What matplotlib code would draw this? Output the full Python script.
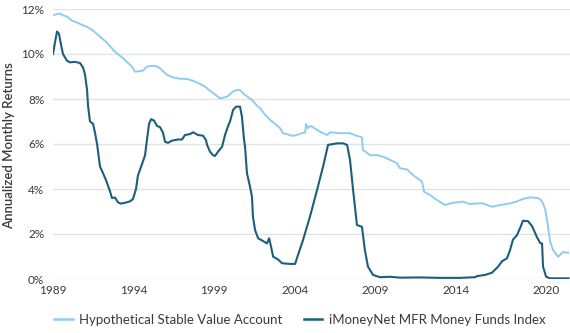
import matplotlib
matplotlib.use("Agg")
import matplotlib.pyplot as plt

# Hypothetical Stable Value Account (year, % return)
sv_years = [1989.03, 1989.28, 1989.46, 1989.65, 1989.90, 1990.21, 1990.52, 1990.83, 1991.14, 1991.51,
            1991.94, 1992.37, 1992.87, 1993.37, 1993.92, 1994.11, 1994.42, 1994.60, 1994.85, 1995.22,
            1995.47, 1995.66, 1996.09, 1996.46, 1996.89, 1997.33, 1997.70, 1998.13, 1998.44, 1998.75,
            1999.06, 1999.37, 1999.81, 2000.18, 2000.43, 2000.61, 2000.92, 2001.35, 2001.60, 2001.85,
            2002.16, 2002.47, 2002.78, 2003.09, 2003.27, 2003.58, 2003.89, 2004.20, 2004.51, 2004.64,
            2004.70, 2004.82, 2004.94, 2005.07, 2005.32, 2005.56, 2006.00, 2006.18, 2006.49, 2006.80,
            2007.42, 2007.85, 2008.16, 2008.22, 2008.41, 2008.66, 2009.09, 2009.40, 2009.71, 2010.02,
            2010.33, 2010.52, 2010.95, 2011.32, 2011.63, 2011.88, 2012.00, 2012.38, 2012.81, 2013.30,
            2013.80, 2014.42, 2014.85, 2015.29, 2015.66, 2016.21, 2016.71, 2017.33, 2017.76, 2018.13,
            2018.57, 2019.06, 2019.25, 2019.37, 2019.50, 2019.62, 2019.81, 2019.99, 2020.30, 2020.61,
            2020.92]
sv_values = [11.72, 11.78, 11.80, 11.72, 11.66, 11.48, 11.40, 11.29, 11.21, 11.04,
             10.77, 10.50, 10.10, 9.81, 9.44, 9.21, 9.24, 9.26, 9.44, 9.48,
             9.45, 9.36, 9.07, 8.96, 8.90, 8.89, 8.81, 8.67, 8.55, 8.37,
             8.20, 8.03, 8.10, 8.33, 8.40, 8.40, 8.18, 7.96, 7.75, 7.59,
             7.30, 7.07, 6.90, 6.70, 6.48, 6.42, 6.36, 6.42, 6.50, 6.50,
             6.89, 6.70, 6.80, 6.77, 6.65, 6.55, 6.40, 6.52, 6.50, 6.48,
             6.48, 6.36, 6.30, 5.73, 5.65, 5.50, 5.51, 5.45, 5.36, 5.25,
             5.14, 4.92, 4.87, 4.62, 4.45, 4.33, 3.88, 3.73, 3.51, 3.29,
             3.39, 3.44, 3.33, 3.36, 3.36, 3.21, 3.29, 3.36, 3.45, 3.56,
             3.63, 3.60, 3.50, 3.36, 3.10, 2.62, 1.66, 1.29, 0.99, 1.20,
             1.17]

# iMoneyNet MFR Money Funds Index (year, % return)
mm_years = [1989.03, 1989.15, 1989.28, 1989.40, 1989.53, 1989.65, 1989.77, 1989.90, 1990.08, 1990.39,
            1990.70, 1990.89, 1991.01, 1991.14, 1991.20, 1991.32, 1991.51, 1991.63, 1991.76, 1991.94,
            1992.13, 1992.31, 1992.56, 1992.68, 1992.87, 1993.06, 1993.24, 1993.55, 1993.80, 1993.98,
            1994.17, 1994.29, 1994.54, 1994.73, 1994.85, 1994.98, 1995.10, 1995.28, 1995.47, 1995.66,
            1995.84, 1995.97, 1996.15, 1996.40, 1996.77, 1997.02, 1997.20, 1997.51, 1997.70, 1998.01,
            1998.32, 1998.50, 1998.57, 1998.75, 1998.94, 1999.06, 1999.25, 1999.50, 1999.68, 1999.87,
            1999.99, 2000.18, 2000.36, 2000.61, 2000.73, 2000.86, 2000.92, 2001.04, 2001.23, 2001.35,
            2001.41, 2001.54, 2001.73, 2002.03, 2002.28, 2002.41, 2002.53, 2002.66, 2002.96, 2003.21,
            2003.71, 2004.02, 2004.20, 2004.51, 2004.94, 2005.38, 2005.75, 2006.06, 2006.62, 2006.99,
            2007.24, 2007.42, 2007.61, 2007.85, 2008.16, 2008.34, 2008.53, 2008.85, 2009.28, 2009.90,
            2010.52, 2011.76, 2012.99, 2014.23, 2015.16, 2015.29, 2015.78, 2016.21, 2016.59, 2016.83,
            2017.14, 2017.33, 2017.51, 2017.76, 2017.94, 2018.13, 2018.44, 2018.69, 2019.00, 2019.19,
            2019.31, 2019.37, 2019.56, 2019.81, 2020.95]
mm_values = [10.00, 10.50, 11.00, 10.90, 10.40, 10.00, 9.85, 9.70, 9.63, 9.65,
             9.60, 9.40, 9.10, 8.40, 7.70, 7.00, 6.90, 6.50, 6.00, 5.00,
             4.70, 4.40, 3.90, 3.60, 3.62, 3.40, 3.35, 3.40, 3.45, 3.55,
             4.00, 4.60, 5.10, 5.50, 6.20, 6.90, 7.10, 7.05, 6.80, 6.75,
             6.50, 6.10, 6.05, 6.15, 6.20, 6.20, 6.40, 6.44, 6.52, 6.40,
             6.37, 6.18, 5.96, 5.66, 5.50, 5.47, 5.66, 5.88, 6.40, 6.80,
             7.00, 7.51, 7.66, 7.66, 7.21, 6.18, 5.88, 4.70, 4.10, 3.66,
             2.77, 2.18, 1.81, 1.69, 1.58, 1.81, 1.44, 0.99, 0.87, 0.70,
             0.67, 0.67, 1.07, 1.73, 2.77, 3.96, 4.99, 5.96, 6.03, 6.03,
             5.96, 5.29, 3.96, 2.40, 2.32, 1.29, 0.55, 0.18, 0.08, 0.10,
             0.06, 0.07, 0.05, 0.05, 0.08, 0.13, 0.18, 0.28, 0.55, 0.79,
             0.92, 1.29, 1.75, 1.95, 2.25, 2.59, 2.57, 2.35, 1.85, 1.60,
             1.58, 0.55, 0.10, 0.03, 0.03]

tick_pos = [1989, 1994, 1999, 2004, 2009, 2014, 2019.56]
tick_labels = ["1989", "1994", "1999", "2004", "2009", "2014", "2020"]
y_ticks = [0, 2, 4, 6, 8, 10, 12]
y_labels = ["0%", "2%", "4%", "6%", "8%", "10%", "12%"]

light = "#8ecdf0"
dark = "#1b5f7c"
text_c = "#3a3a3a"
font = ["Lato", "DejaVu Sans"]
plt.rcParams["font.family"] = font

fig = plt.figure(figsize=(5.7, 3.33), dpi=100)
ax = fig.add_axes([52.5 / 570, 54 / 333, 517.5 / 570, 270 / 333])

ax.plot(sv_years, sv_values, color=light, lw=1.4, label="Hypothetical Stable Value Account", zorder=3)
ax.plot(mm_years, mm_values, color=dark, lw=1.5, label="iMoneyNet MFR Money Funds Index", zorder=4)

ax.set_xlim(1989.0, 2021.04)
ax.set_ylim(0, 12)
ax.set_yticks(y_ticks)
ax.set_yticklabels(y_labels)
ax.set_xticks(tick_pos)
ax.set_xticklabels(tick_labels)
ax.grid(axis="y", color="#e3e3e3", lw=1.0, zorder=0)
ax.set_axisbelow(True)
for s in ax.spines.values():
    s.set_visible(False)
ax.tick_params(axis="both", length=0, labelsize=8.5, colors=text_c)
ax.tick_params(axis="y", pad=6)
ax.tick_params(axis="x", pad=4)

fig.text(9 / 570, 1 - 146 / 333, "Annualized Monthly Returns", rotation=90, ha="center", va="center",
         fontsize=9.5, color=text_c, fontweight="semibold")

leg = fig.legend(loc="center", bbox_to_anchor=(300 / 570, 1 - 320 / 333), ncol=2, frameon=False,
                 fontsize=9.5, handlelength=1.4, columnspacing=1.6, handletextpad=0.5)
for t in leg.get_texts():
    t.set_color(text_c)
for h in leg.get_lines():
    h.set_linewidth(1.8)

fig.savefig("out.png", dpi=100)
